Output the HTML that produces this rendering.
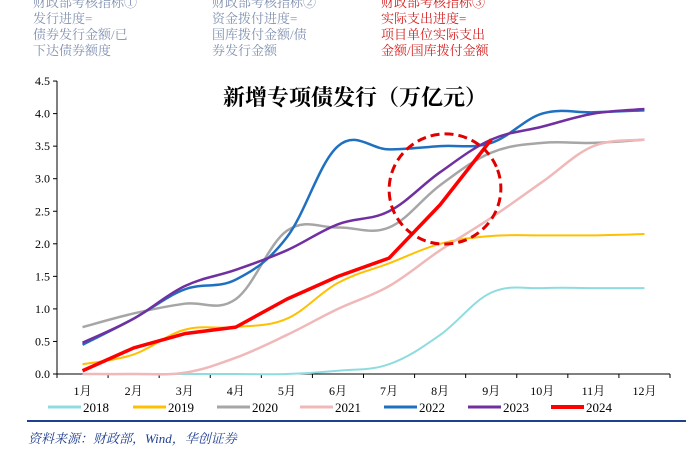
<!DOCTYPE html>
<html><head><meta charset="utf-8"><style>
body{margin:0;width:686px;height:452px;background:#fff;overflow:hidden;position:relative;font-family:"Liberation Serif","Noto Serif CJK SC",serif}
.t{position:absolute;font-size:13px;line-height:16px;color:#8090b0;white-space:nowrap}
.r{color:#d42020}
</style></head><body>
<div class="t" style="left:33px;top:-5px">财政部考核指标①<br>发行进度=<br>债券发行金额/已<br>下达债券额度</div>
<div class="t" style="left:212px;top:-5px">财政部考核指标②<br>资金拨付进度=<br>国库拨付金额/债<br>券发行金额</div>
<div class="t r" style="left:381px;top:-5px">财政部考核指标③<br>实际支出进度=<br>项目单位实际支出<br>金额/国库拨付金额</div>
<svg id="c" width="686" height="452" style="position:absolute;left:0;top:0"></svg>
<div style="position:absolute;left:28px;top:428px;font-size:13px;font-style:italic;color:#1f3f8f">资料来源：财政部，Wind，华创证券</div>
<script>
const months=["1月","2月","3月","4月","5月","6月","7月","8月","9月","10月","11月","12月"];
const yTicks=[0,0.5,1,1.5,2,2.5,3,3.5,4,4.5];
const seriesNames=["2018","2019","2020","2021","2022","2023","2024"];
const s2018=[0,0,0,0,0,0.05,0.15,0.6,1.25,1.32,1.32,1.32];
const s2019=[0.15,0.3,0.68,0.72,0.85,1.4,1.7,2.0,2.12,2.13,2.13,2.15];
const s2020=[0.72,0.93,1.08,1.15,2.2,2.25,2.25,2.9,3.4,3.55,3.55,3.6];
const s2021=[0,0,0.02,0.25,0.6,1.0,1.35,1.9,2.4,2.95,3.5,3.6];
const s2022=[0.45,0.85,1.3,1.45,2.1,3.5,3.45,3.5,3.55,4.0,4.02,4.05];
const s2023=[0.48,0.85,1.35,1.6,1.9,2.3,2.5,3.1,3.6,3.8,4.0,4.07];
const s2024=[0.05,0.4,0.62,0.72,1.15,1.5,1.78,2.6,3.6];
const data=[s2018,s2019,s2020,s2021,s2022,s2023,s2024];
const colors=["#8fdce0","#ffc000","#a6a6a6","#f0b8b8","#1f70c1","#7030a0","#ff0000"];
const widths=[2,2,2.5,2.5,2.5,2.5,3.5];
const X0=57,X1=670,Y0=374,YS=65.1;
const bw=(X1-X0)/12;
const x=i=>X0+bw*(i+0.5), y=v=>Y0-v*YS;
const svg=document.getElementById('c');const NS="http://www.w3.org/2000/svg";
function mk(t,a,p){const e=document.createElementNS(NS,t);for(const k in a)e.setAttribute(k,a[k]);(p||svg).appendChild(e);return e;}
let tt=mk('text',{x:355,y:105,'text-anchor':'middle','font-size':22,'font-weight':'bold',fill:'#000'});tt.textContent="新增专项债发行（万亿元）";


mk('line',{x1:X0,y1:y(4.5),x2:X0,y2:Y0,stroke:'#000'});
yTicks.forEach(v=>{mk('line',{x1:X0-4,x2:X0,y1:y(v),y2:y(v),stroke:'#000'});
 const t=mk('text',{x:X0-7,y:y(v)+4,'text-anchor':'end','font-size':12,fill:'#000'});t.textContent=v.toFixed(1);
 
 });
mk('line',{x1:X0,y1:Y0,x2:X1,y2:Y0,stroke:'#000'});
for(let i=0;i<=12;i++)mk('line',{x1:X0+bw*i,x2:X0+bw*i,y1:Y0,y2:Y0+4,stroke:'#000'});
months.forEach((m,i)=>{const t=mk('text',{x:x(i),y:Y0+21,'text-anchor':'middle','font-size':12,fill:'#000'});t.textContent=m;
 
 });
function path(vals){const p=vals.map((v,i)=>[x(i),y(v)]);let d=`M${p[0][0]},${p[0][1]}`;
 for(let i=0;i<p.length-1;i++){const a=p[i-1]||p[i],b=p[i],c=p[i+1],e=p[i+2]||c;const k=0.18;
  d+=` C${b[0]+(c[0]-a[0])*k},${b[1]+(c[1]-a[1])*k} ${c[0]-(e[0]-b[0])*k},${c[1]-(e[1]-b[1])*k} ${c[0]},${c[1]}`;}return d;}
data.forEach((vals,si)=>{const pth=mk('path',{d:si==6?vals.map((v,i)=>(i?'L':'M')+x(i)+','+y(v)).join(' '):path(vals),fill:'none',stroke:colors[si],'stroke-width':widths[si],'stroke-linejoin':'round'});
 
 });
const el=mk('ellipse',{cx:445,cy:189,rx:56,ry:55,fill:'none',stroke:'#e00000','stroke-width':3,'stroke-dasharray':'9 5',transform:'rotate(-20 445 189)'});


const lx=[48,133,217,300,384,468,551];
seriesNames.forEach((n,i)=>{const g=mk('g',{});
 
 
 mk('line',{x1:lx[i],x2:lx[i]+33,y1:407,y2:407,stroke:colors[i],'stroke-width':i==6?4:3},g);
 const t=mk('text',{x:lx[i]+35,y:412,'font-size':13,fill:'#000'},g);t.textContent=n;});
const bl=mk('line',{x1:27,x2:686,y1:421,y2:421,stroke:'#1f3f8f','stroke-width':2});


</script>
</body></html>
